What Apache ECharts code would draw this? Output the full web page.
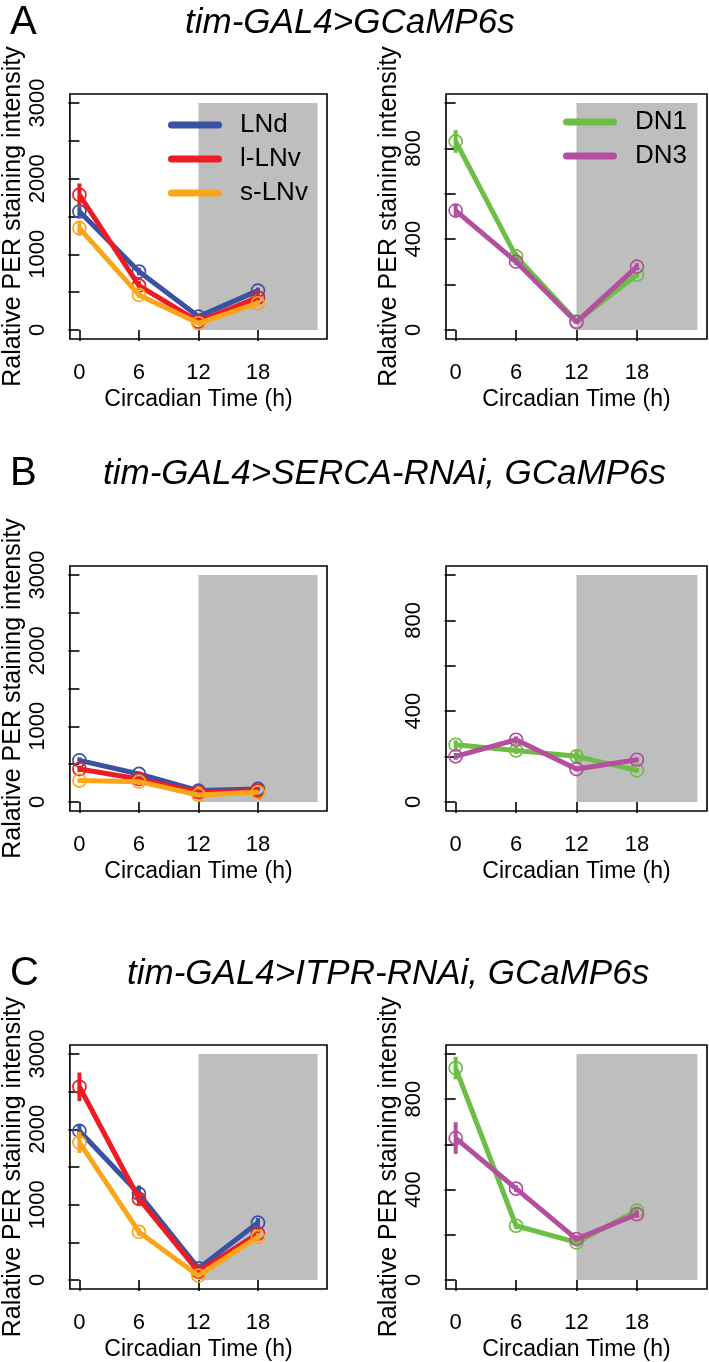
<!DOCTYPE html>
<html><head><meta charset="utf-8">
<script src="https://cdn.jsdelivr.net/npm/echarts@6/dist/echarts.min.js"></script>
<style>html,body{margin:0;padding:0;background:#fff}#c{width:709px;height:1362px}</style>
</head><body><div id="c"></div>
<script>
// ---- data ----
const ct = [0, 6, 12, 18];
const xTicks = [0, 6, 12, 18];
const lnTicks = [0, 500, 1000, 1500, 2000, 2500, 3000];
const lnLabels = [0, 1000, 2000, 3000];
const dnTicks = [0, 200, 400, 600, 800, 1000];
const dnLabels = [0, 400, 800];
const shadeX = [12, 24];
const shadeLN = [0, 3000];
const shadeDN = [0, 1000];

const rowTitles = ['tim-GAL4>GCaMP6s', 'tim-GAL4>SERCA-RNAi, GCaMP6s', 'tim-GAL4>ITPR-RNAi, GCaMP6s'];
const rowLetters = ['A', 'B', 'C'];
const lnNames = ['LNd', 'l-LNv', 's-LNv'];
const dnNames = ['DN1', 'DN3'];

// row A
const A_LNd = [1566, 772, 176, 520];   const A_LNd_err = [70, 50, 30, 40];
const A_lLNv = [1787, 587, 110, 428];  const A_lLNv_err = [150, 60, 30, 50];
const A_sLNv = [1346, 463, 88, 353];   const A_sLNv_err = [100, 40, 20, 40];
const A_DN1 = [831, 324, 37, 243];     const A_DN1_err = [50, 20, 10, 15];
const A_DN3 = [526, 301, 34, 279];     const A_DN3_err = [30, 15, 8, 15];
// row B
const B_LNd = [550, 370, 150, 172];    const B_LNd_err = [40, 30, 20, 20];
const B_lLNv = [435, 303, 128, 150];   const B_lLNv_err = [40, 25, 15, 20];
const B_sLNv = [282, 268, 92, 128];    const B_sLNv_err = [30, 30, 15, 20];
const B_DN1 = [252, 227, 201, 139];    const B_DN1_err = [20, 15, 25, 10];
const B_DN3 = [201, 274, 145, 186];    const B_DN3_err = [15, 15, 10, 10];
// row C
const C_LNd = [1979, 1144, 154, 761];  const C_LNd_err = [90, 110, 30, 60];
const C_lLNv = [2565, 1078, 110, 616]; const C_lLNv_err = [190, 80, 30, 50];
const C_sLNv = [1826, 638, 57, 572];   const C_sLNv_err = [140, 50, 15, 50];
const C_DN1 = [938, 240, 166, 307];    const C_DN1_err = [50, 15, 10, 15];
const C_DN3 = [628, 404, 181, 291];    const C_DN3_err = [70, 15, 10, 15];

// ---- styling ----
const FONT = 'Liberation Sans, Arial, Helvetica, sans-serif';
const COLORS = {'LNd': '#3953A4', 'l-LNv': '#ED1C24', 's-LNv': '#FBA51A', 'DN1': '#6DBE45', 'DN3': '#B44FA0'};
const rows = [
  {ln: [[A_LNd, A_LNd_err], [A_lLNv, A_lLNv_err], [A_sLNv, A_sLNv_err]], dn: [[A_DN1, A_DN1_err], [A_DN3, A_DN3_err]], top: 94, dnYName: true},
  {ln: [[B_LNd, B_LNd_err], [B_lLNv, B_lLNv_err], [B_sLNv, B_sLNv_err]], dn: [[B_DN1, B_DN1_err], [B_DN3, B_DN3_err]], top: 566, dnYName: false},
  {ln: [[C_LNd, C_LNd_err], [C_lLNv, C_lLNv_err], [C_sLNv, C_sLNv_err]], dn: [[C_DN1, C_DN1_err], [C_DN3, C_DN3_err]], top: 1045, dnYName: true}
];
const GRID_H = 245;
const cols = [{left: 65, width: 262}, {left: 446, width: 261}];

const grid = [], xAxis = [], yAxis = [], series = [];
const YNAME = 'Ralative PER staining intensity';

function addPanel(rowIdx, colIdx, groups, names, ymax, ticks, labels, shadeY, showYName) {
  const gi = grid.length;
  grid.push({left: cols[colIdx].left, width: cols[colIdx].width, top: rows[rowIdx].top, height: GRID_H,
    show: true, borderColor: '#000', borderWidth: 1.6, backgroundColor: 'transparent', containLabel: false});
  xAxis.push({type: 'value', gridIndex: gi, min: -0.96, max: 24.96,
    name: 'Circadian Time (h)', nameLocation: 'middle', nameGap: 49,
    nameTextStyle: {fontFamily: FONT, fontSize: 23, color: '#000'},
    axisLine: {show: false}, splitLine: {show: false},
    axisTick: {show: true, inside: false, length: 11, customValues: xTicks, lineStyle: {color: '#000', width: 1.6}},
    axisLabel: {show: true, customValues: xTicks, margin: 23, fontFamily: FONT, fontSize: 22, color: '#000',
      formatter: function (v) { return String(v); }}});
  const pad = ymax * 0.04;
  yAxis.push({type: 'value', gridIndex: gi, min: -pad, max: ymax + pad,
    name: showYName ? YNAME : '', nameLocation: 'middle', nameRotate: 90, nameGap: 41,
    nameTextStyle: {fontFamily: FONT, fontSize: 25, color: '#000'},
    axisLine: {show: false}, splitLine: {show: false},
    axisTick: {show: true, inside: false, length: 11, customValues: ticks, lineStyle: {color: '#000', width: 1.6}},
    axisLabel: {show: true, customValues: labels, rotate: 90, margin: 21, fontFamily: FONT, fontSize: 22, color: '#000',
      formatter: function (v) { return String(v); }}});
  // shading
  series.push({type: 'custom', xAxisIndex: gi, yAxisIndex: gi, z: 1, silent: true,
    data: [[shadeX[0], shadeY[0], shadeX[1], shadeY[1]]],
    renderItem: function (params, api) {
      const p1 = api.coord([api.value(0), api.value(3)]);
      const p2 = api.coord([api.value(2), api.value(1)]);
      return {type: 'rect', shape: {x: p1[0], y: p1[1], width: p2[0] - p1[0], height: p2[1] - p1[1]}, style: {fill: '#BEBEBE'}};
    }});
  groups.forEach(function (g, k) {
    const name = names[k], col = COLORS[name];
    const vals = g[0], errs = g[1];
    series.push({type: 'line', name: name, xAxisIndex: gi, yAxisIndex: gi, z: 2 + k * 0.1,
      data: ct.map(function (t, i) { return [t, vals[i]]; }),
      symbol: 'circle', symbolSize: 13, showSymbol: true, animation: false,
      lineStyle: {color: col, width: 5},
      itemStyle: {color: 'rgba(0,0,0,0)', borderColor: col, borderWidth: 1.7}});
    series.push({type: 'custom', name: name + ' SEM', xAxisIndex: gi, yAxisIndex: gi, z: 2 + k * 0.1, silent: true,
      data: ct.map(function (t, i) { return [t, vals[i], errs[i]]; }),
      renderItem: function (params, api) {
        const x = api.value(0), v = api.value(1), e = api.value(2);
        const a = api.coord([x, v - e]), b = api.coord([x, v + e]);
        return {type: 'line', shape: {x1: a[0], y1: a[1], x2: b[0], y2: b[1]}, style: {stroke: col, lineWidth: 4}};
      }});
  });
}

rows.forEach(function (r, ri) {
  addPanel(ri, 0, r.ln, lnNames, 3000, lnTicks, lnLabels, shadeLN, true);
  addPanel(ri, 1, r.dn, dnNames, 1000, dnTicks, dnLabels, shadeDN, r.dnYName);
});

const legendIcon = 'path://M2.5,0 L49.5,0 A2.5,2.5 0 0 1 49.5,5 L2.5,5 A2.5,2.5 0 0 1 2.5,0 Z';
const legend = [
  {orient: 'vertical', left: 163, top: 107, itemWidth: 52, itemHeight: 5, itemGap: 8, selectedMode: false, icon: legendIcon,
   data: lnNames.map(function (n) { return {name: n, itemStyle: {color: COLORS[n]}}; }),
   textStyle: {fontFamily: FONT, fontSize: 26, color: '#000', padding: [0, 0, 0, 14]}},
  {orient: 'vertical', left: 558, top: 104, itemWidth: 54, itemHeight: 5, itemGap: 8, selectedMode: false, icon: legendIcon,
   data: dnNames.map(function (n) { return {name: n, itemStyle: {color: COLORS[n]}}; }),
   textStyle: {fontFamily: FONT, fontSize: 26, color: '#000', padding: [0, 0, 0, 13]}}
];

const titleTops = [1, 452, 952];
const titleLefts = [180, 98, 122];
const title = [];
rowLetters.forEach(function (L, i) {
  title.push({text: L, left: 5, top: titleTops[i] - 3, textStyle: {fontFamily: FONT, fontSize: 40, fontWeight: 'normal', color: '#000'}});
  title.push({text: rowTitles[i], left: titleLefts[i], top: titleTops[i], textStyle: {fontFamily: FONT, fontSize: 35, fontStyle: 'italic', fontWeight: 'normal', color: '#000'}});
});

const chart = echarts.init(document.getElementById('c'), null, {renderer: 'canvas'});
chart.setOption({animation: false, backgroundColor: '#fff', title: title, legend: legend, grid: grid, xAxis: xAxis, yAxis: yAxis, series: series});
</script></body></html>
